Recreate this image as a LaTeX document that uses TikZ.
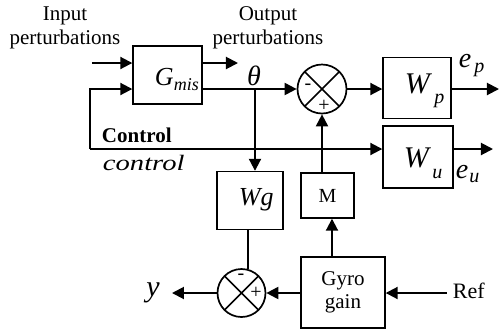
\documentclass[tikz,border=0pt]{standalone}
\usepackage{fontspec}
\setmainfont{Liberation Serif}
\usetikzlibrary{arrows.meta,calc}
\newcommand\fs[1]{\fontsize{#1}{#1}\selectfont}
\begin{document}
\begin{tikzpicture}[x=0.5pt,y=-0.5pt,
  blk/.style={draw,line width=0.7pt,inner sep=0pt},
  conn/.style={line width=1pt},
  arr/.style={conn,-{Triangle[length=6pt,width=6pt]}},
  sumnode/.style={circle,draw,line width=0.85pt,minimum size=#1,inner sep=0pt,
    path picture={\draw[line width=0.85pt]
      (path picture bounding box.north west)--(path picture bounding box.south east)
      (path picture bounding box.north east)--(path picture bounding box.south west);}},
  lbl/.style={inner sep=0pt,outer sep=0pt},
  sgn/.style={inner sep=0pt,font=\fs{10}},
]
\useasboundingbox (0,0) rectangle (500,329);

% blocks
\node[blk,minimum width=34.5pt,minimum height=29pt] (G) at (167.5,75) {};
\node[sumnode=24.5pt] (S1) at (322,89) {};
\node[blk,minimum width=34pt,minimum height=30.5pt] (Wp) at (417,88) {};
\node[blk,minimum width=35pt,minimum height=31pt] (Wu) at (418,157) {};
\node[blk,minimum width=33pt,minimum height=29pt] (Wg) at (250,200.5) {};
\node[blk,minimum width=26.5pt,minimum height=22.5pt,font=\fs{10}] (M) at (327.5,195.5) {M};
\node[blk,minimum width=42pt,minimum height=35.5pt,align=center,font=\fontsize{10.5}{11.5}\selectfont] (Gyro) at (343,292.5) {Gyro\\gain};
\node[sumnode=24pt] (S2) at (241.5,293) {};

% coordinates
\coordinate (in1) at (92,63);
\coordinate (fbL) at (90,149);
\coordinate (fbT) at (90,89);
\coordinate (op) at (238,63);
\coordinate (ep) at (499,89);
\coordinate (eu) at (493,149);
\coordinate (th) at (255,89);
\coordinate (ref) at (447,293);
\coordinate (yend) at (172,293);
\coordinate (gtop) at ($(Gyro.north)+(-5.5pt,0)$);

% connectors
\draw[arr] (in1) -- (in1 -| G.west);
\draw[arr] (fbL) -- (fbT) -- (fbT -| G.west);
\draw[arr] (fbL) -- (fbL -| Wu.west);
\draw[arr] (G.east |- op) -- (op);
\draw[arr] (G.east |- S1) -- (S1.west);
\draw[arr] (S1.east) -- (Wp.west |- S1);
\draw[arr] (Wp.east |- S1) -- (ep);
\draw[arr] (Wu.east |- fbL) -- (eu);
\draw[arr] (th) -- (th |- Wg.north);
\draw[arr] (M.north -| S1) -- (S1.south);
\draw[arr] (gtop) -- (gtop |- M.south);
\draw[arr] (Gyro.west |- S2) -- (S2.east);
\draw[arr] (ref) -- (ref -| Gyro.east);
\draw[arr] (S2.west) -- (yend);
\draw[conn] (S2.74 |- Wg.south) -- (S2.74);

% signs
\node[sgn] (s1m) at (308,87) {-};
\node[sgn] (s1p) at (324,106) {+};
\node[sgn] (s2m) at (241,277) {-};
\node[sgn] (s2p) at (256,293) {+};

% labels
\node[lbl,align=center,font=\fontsize{10.5}{12}\selectfont] (tin) at (65,28) {Input\\perturbations};
\node[lbl,align=center,font=\fontsize{10.5}{12}\selectfont] (tout) at (268,28) {Output\\perturbations};
\node[lbl,anchor=base west] (tG) at (155,85) {\fs{13}\textit{G}\raisebox{-2.5pt}{\fs{9}\textit{mis}}};
\node[lbl,anchor=base] (tth) at (254,85) {\fs{14}\textit{θ}};
\node[lbl,anchor=base west] (tWp) at (405,93) {\fs{15}\textit{W}\kern1pt\raisebox{-5pt}{\fs{10}\textit{p}}};
\node[lbl,anchor=base west] (tWu) at (404,167) {\fs{15}\textit{W}\kern0.5pt\raisebox{-5.5pt}{\fs{10}\textit{u}}};
\node[lbl,anchor=base west] (tep) at (459,67) {\fs{14}\textit{e}\kern1.5pt\raisebox{-2.5pt}{\fs{10}\textit{p}}};
\node[lbl,anchor=base west] (teu) at (456,178) {\fs{14}\textit{e}\kern0.5pt\raisebox{-2pt}{\fs{10}\textit{u}}};
\node[lbl,anchor=base west] (tWg) at (239,205) {\fs{13}\textit{Wg}};
\node[lbl,anchor=base west] (tC) at (102,142) {\fs{10.5}\textbf{Control}};
\node[lbl,anchor=base west] (tc) at (103,170) {\scalebox{1.3}[1]{\fs{11}\textit{control}}};
\node[lbl] (ty) at (153,293) {\fs{15}\textit{y}};
\node[lbl,anchor=base west] (tref) at (453,298) {\fs{11}Ref};
\end{tikzpicture}
\end{document}
